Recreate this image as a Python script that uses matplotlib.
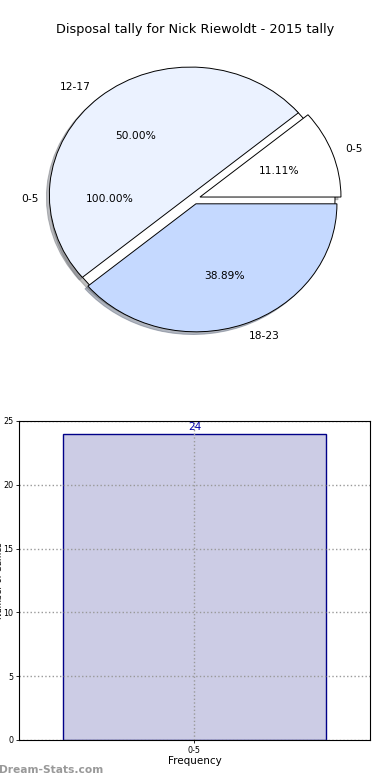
import matplotlib
matplotlib.use('Agg')
import matplotlib.pyplot as plt

# data
title = 'Disposal tally for Nick Riewoldt - 2015 tally'
pie_labels = ['0-5', '12-17', '18-23']
pie_counts = [2, 9, 7]
back_labels = ['0-5']
back_counts = [24]
bar_labels = ['0-5']
bar_counts = [24]

pie_colors = ['white', '#EBF2FF', '#C5D9FF']

fig = plt.figure(figsize=(3.9, 7.8), dpi=100)

# pie chart (top)
ax1 = fig.add_axes([17.75 / 390, 1 - 359 / 780, 352.5 / 390, 320 / 780])
wp = dict(edgecolor='black', linewidth=0.7)
shadow = dict(ox=-0.015, oy=-0.015, shade=0.5)
ax1.pie(back_counts, labels=back_labels, colors=['white'], autopct='%1.2f%%',
        shadow=shadow, startangle=0, wedgeprops=wp,
        textprops=dict(fontsize=7.7))
ax1.pie(pie_counts, labels=pie_labels, colors=pie_colors, autopct='%1.2f%%',
        explode=[0.045, 0.04, 0.04], shadow=shadow, startangle=0, wedgeprops=wp,
        textprops=dict(fontsize=7.7))
ax1.set_aspect('auto')
ax1.set_xlim(-1.25, 1.25)
ax1.set_ylim(-1.25, 1.25)

fig.text(0.5, 1 - 30 / 780, title, ha='center', va='center', fontsize=9.3)

# bar chart (bottom)
ax2 = fig.add_axes([0.0487, 0.0513, 0.9, 0.409])
xs = list(range(len(bar_labels)))
ax2.bar(xs, bar_counts, width=0.75, color='#CCCCE5', edgecolor='#000088', linewidth=1)
for x, v in zip(xs, bar_counts):
    ax2.text(x, v + 0.1, str(v), ha='center', va='bottom', color='#0000AA', fontsize=7.5)
ax2.set_xlim(-0.5, 0.5)
ax2.set_ylim(0, 25)
ax2.set_xticks(xs)
ax2.set_xticklabels(bar_labels)
ax2.set_yticks([0, 5, 10, 15, 20, 25])
ax2.tick_params(labelsize=5.8, length=2, width=0.6, pad=2)
ax2.grid(True, linestyle=':', color='#999999', linewidth=1)
ax2.set_axisbelow(False)
for sp in ax2.spines.values():
    sp.set_zorder(3)
ax2.set_xlabel('Frequency', fontsize=7.5, labelpad=1)
ax2.set_ylabel('Number of Games', fontsize=6)
ax2.yaxis.set_label_coords(-0.043, 0.5)

fig.text(-0.003, 1 - 770 / 780, 'Dream-Stats.com', ha='left', va='center',
         color='#999999', fontsize=7.7, fontweight='bold')

fig.savefig('out.png', dpi=100)
